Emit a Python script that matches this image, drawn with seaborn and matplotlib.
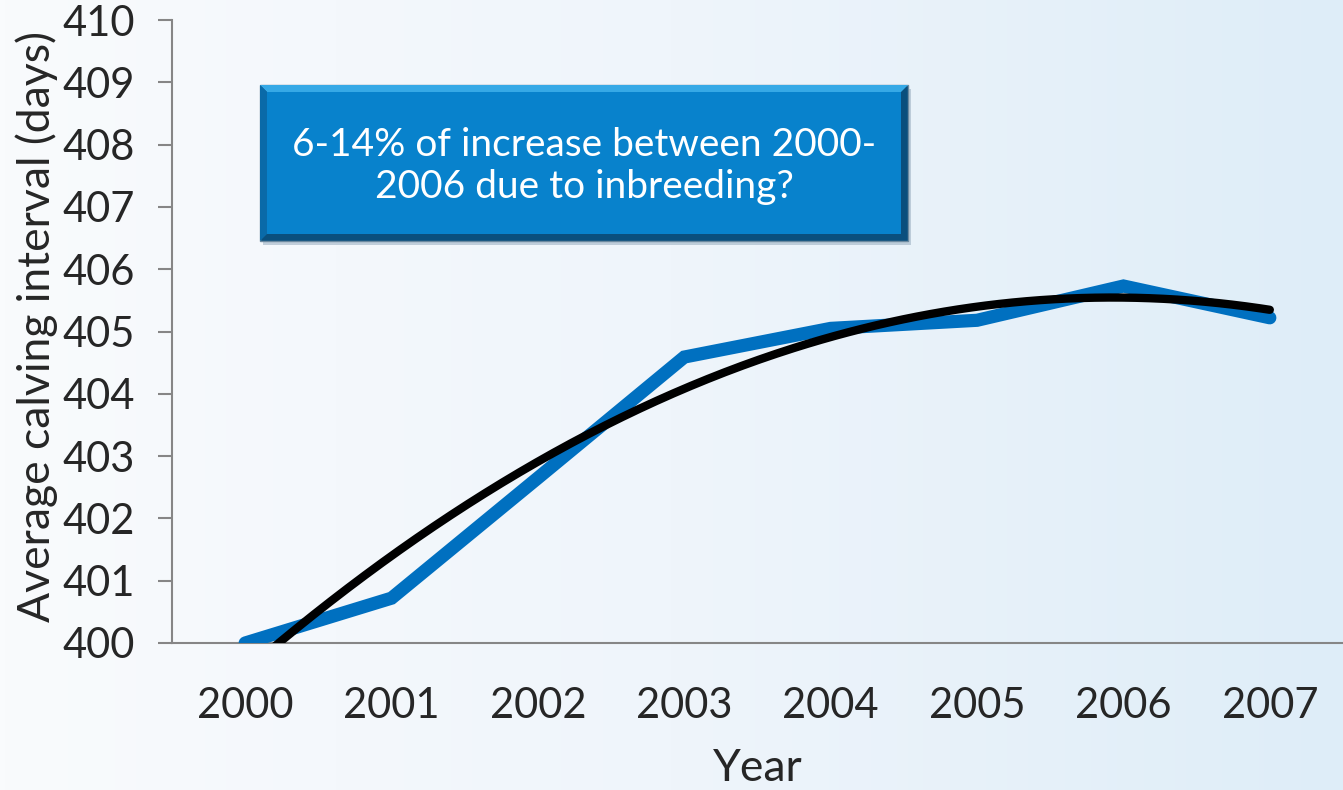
import numpy as np
import pandas as pd
import matplotlib
matplotlib.use("Agg")
import matplotlib.pyplot as plt
import seaborn as sns
from matplotlib.patches import Rectangle, Polygon
from matplotlib.colors import LinearSegmentedColormap

# Average calving interval per year
years = ["2000", "2001", "2002", "2003", "2004", "2005", "2006", "2007"]
calving_interval = [400.0, 400.72, 402.65, 404.59, 405.05, 405.18, 405.73, 405.22]
y_ticks = [400, 401, 402, 403, 404, 405, 406, 407, 408, 409, 410]
note_text = "6-14% of increase between 2000-\n2006 due to inbreeding?"

sns.set_style("white")
plt.rcParams["font.family"] = ["Lato", "DejaVu Sans"]

df = pd.DataFrame({"pos": np.arange(len(years)), "year": years, "value": calving_interval})

fig = plt.figure(figsize=(13.43, 7.90), dpi=100)

# soft horizontal background gradient
bg = fig.add_axes([0, 0, 1, 1], zorder=-10)
cmap = LinearSegmentedColormap.from_list("bg", ["#f9fbfd", "#eff5fb", "#deedf8"])
bg.imshow(np.linspace(0, 1, 256)[None, :], aspect="auto", cmap=cmap, extent=[0, 1, 0, 1])
bg.set_axis_off()

W, H = 1343, 790
ax = fig.add_axes([172 / W, 1 - 643 / H, (W - 172) / W, (643 - 20) / H])
ax.set_facecolor("none")

sns.lineplot(data=df, x="pos", y="value", ax=ax, color="#0070c0", linewidth=9.5,
             solid_capstyle="round", solid_joinstyle="miter", zorder=3)

# polynomial trend line fitted to the yearly values
coef = np.polyfit(df["pos"], df["value"], 2)
xs = np.linspace(0, len(years) - 1, 300)
ax.plot(xs, np.polyval(coef, xs), color="black", linewidth=6, solid_capstyle="round", zorder=4)

ax.set_xlim(-0.5, len(years) - 0.5)
ax.set_ylim(400, 410)
ax.set_yticks(y_ticks)
ax.set_yticklabels([str(t) for t in y_ticks])
ax.set_xticks(df["pos"])
ax.set_xticklabels(years)
ax.tick_params(axis="y", direction="out", length=10, width=1.5, color="#868686",
               labelsize=30, pad=17, left=True)
ax.tick_params(axis="x", length=0, labelsize=30, pad=32)
for s in ["top", "right"]:
    ax.spines[s].set_visible(False)
for s in ["left", "bottom"]:
    ax.spines[s].set_color("#868686")
    ax.spines[s].set_linewidth(1.5)
ax.set_xlabel("Year", fontsize=32)
ax.set_ylabel("Average calving interval (days)", fontsize=32)
ax.xaxis.set_label_coords(0.5, (643 - 748) / 623)
ax.yaxis.set_label_coords((58 - 172) / 1171, (643 - 326) / 623)

# annotation box with bevelled border and drop shadow
x0, x1 = 260 / W, 908 / W
y0, y1 = 1 - 241 / H, 1 - 85 / H
tf = fig.transFigure
fig.patches.append(Rectangle((x0 + 3 / W, y0 - 4 / H), x1 - x0, y1 - y0, transform=tf,
                             facecolor="#9fb3c4", edgecolor="none", alpha=0.6, zorder=5))
fig.patches.append(Rectangle((x0, y0), x1 - x0, y1 - y0, transform=tf,
                             facecolor="#0a4f7d", edgecolor="#6c8aa0", linewidth=1, zorder=6))
b = 7
fig.patches.append(Polygon([(x0, y1), (x1, y1), (x1 - b / W, y1 - b / H), (x0 + b / W, y1 - b / H)],
                           closed=True, transform=tf, facecolor="#36a9e6", edgecolor="none", zorder=7))
fig.patches.append(Polygon([(x0, y1), (x0 + b / W, y1 - b / H), (x0 + b / W, y0 + b / H), (x0, y0)],
                           closed=True, transform=tf, facecolor="#0a6aa8", edgecolor="none", zorder=7))
fig.patches.append(Rectangle((x0 + b / W, y0 + b / H), x1 - x0 - 2 * b / W, y1 - y0 - 2 * b / H,
                             transform=tf, facecolor="#0882cc", edgecolor="none", zorder=8))
fig.text((x0 + x1) / 2, 1 - 166 / H, note_text, ha="center", va="center",
         color="white", fontsize=28, linespacing=1.2, zorder=9)

fig.savefig("out.png", dpi=100)
